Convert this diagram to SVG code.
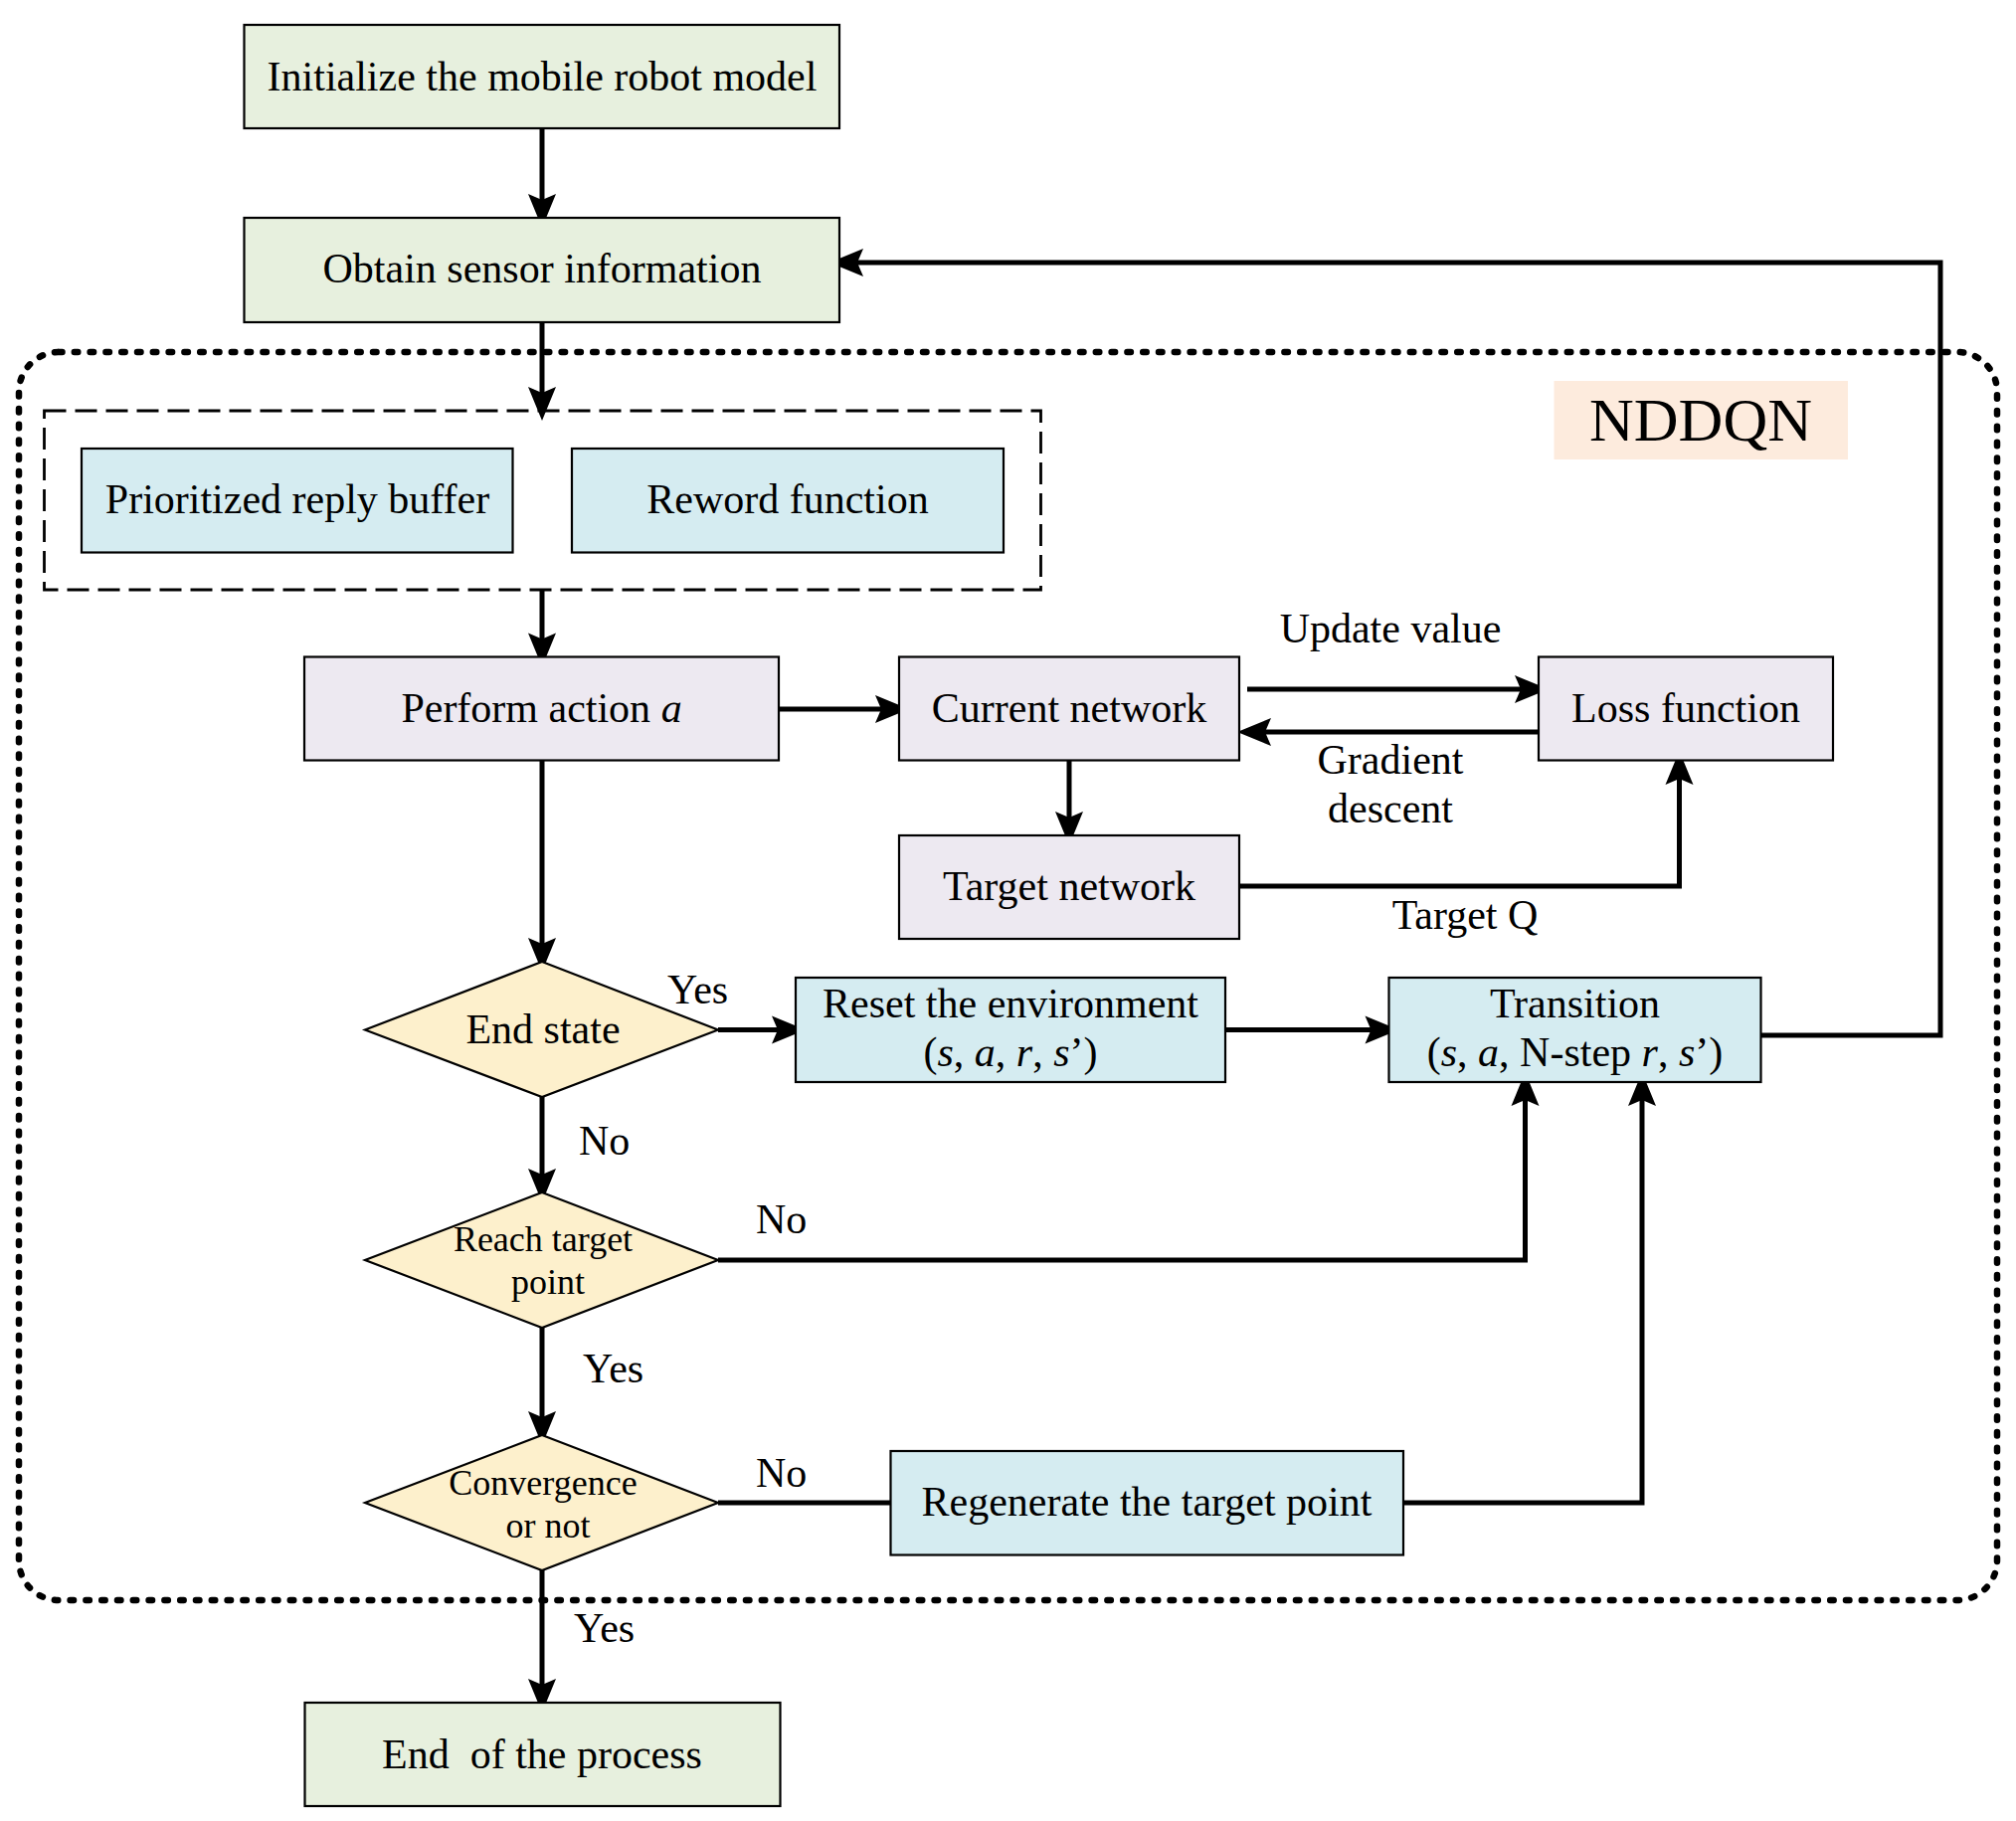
<svg xmlns="http://www.w3.org/2000/svg" width="2027" height="1831" viewBox="0 0 2027 1831">
<style>
text{font-family:"Liberation Serif","Times New Roman",serif;font-size:42px;fill:#000}
.c{text-anchor:middle}
.i{font-style:italic}
.box{stroke:#000;stroke-width:2.2}
.g{fill:#E7F0DE}
.b{fill:#D5ECF1}
.p{fill:#EDE9F1}
.y{fill:#FDF0CC}
.ln{fill:none;stroke:#000;stroke-width:5}
.arr{marker-end:url(#ah)}
.sm{font-size:36px}
</style>
<defs>
<marker id="ah" markerUnits="userSpaceOnUse" viewBox="-38 -18 40 36" markerWidth="40" markerHeight="36" refX="-10" refY="0" orient="auto">
<path d="M0,0 L-34,-14 L-28,0 L-34,14 Z" fill="#000"/>
</marker>
</defs>
<rect width="2027" height="1831" fill="#fff"/>
<g id="nddqn-container">
<rect x="19" y="354" width="1989" height="1255" rx="40" ry="40" fill="none" stroke="#000" stroke-width="6.5" stroke-dasharray="3.5 12.3" stroke-linecap="round"/>
<rect x="1562.5" y="383" width="295.5" height="79" fill="#FDEBDD"/>
<text class="c" x="1710" y="443" style="font-size:62px">NDDQN</text>
</g>
<g id="buffer-group">
<rect x="44.5" y="413" width="1002" height="180" fill="none" stroke="#000" stroke-width="2.8" stroke-dasharray="22 9"/>
</g>
<g id="connectors">
<path class="ln arr" d="M545,129 V219"/>
<path class="ln arr" d="M545,324 V413"/>
<path class="ln arr" d="M545,593 V660.5"/>
<path class="ln arr" d="M783,713 H904"/>
<path class="ln arr" d="M1254,693 H1547"/>
<path class="ln arr" d="M1547,736 H1254"/>
<path class="ln arr" d="M1075,765 V840"/>
<path class="ln arr" d="M1246,891 H1688.5 V765"/>
<path class="ln arr" d="M545,765 V967"/>
<path class="ln arr" d="M722,1035.5 H800"/>
<path class="ln arr" d="M1232,1035.5 H1396.5"/>
<path class="ln arr" d="M1770.5,1041 H1951 V264 H844"/>
<path class="ln arr" d="M545,1103 V1199"/>
<path class="ln arr" d="M722,1267 H1533.5 V1088"/>
<path class="ln arr" d="M545,1335 V1443"/>
<path class="ln" d="M722,1511 H895.5"/>
<path class="ln arr" d="M1411,1511 H1651 V1088"/>
<path class="ln arr" d="M545,1579 V1712"/>
</g>
<g id="labels">
<text class="c" x="1398" y="646">Update value</text>
<text class="c" x="1398" y="778">Gradient</text>
<text class="c" x="1398" y="827">descent</text>
<text class="c" x="1473" y="934">Target Q</text>
<text x="671" y="1009">Yes</text>
<text x="582" y="1161">No</text>
<text x="760" y="1240">No</text>
<text x="586" y="1390">Yes</text>
<text x="760" y="1495">No</text>
<text x="577" y="1651">Yes</text>
</g>
<g id="init">
<rect class="box g" x="245.5" y="25" width="598.5" height="104"/>
<text class="c" x="545" y="91">Initialize the mobile robot model</text>
</g>
<g id="sensor">
<rect class="box g" x="245.5" y="219" width="598.5" height="105"/>
<text class="c" x="545" y="284">Obtain sensor information</text>
</g>
<g id="prioritized">
<rect class="box b" x="82" y="451" width="433.5" height="104.5"/>
<text class="c" x="299" y="516">Prioritized reply buffer</text>
</g>
<g id="reward">
<rect class="box b" x="575" y="451" width="434" height="104.5"/>
<text class="c" x="792" y="516">Reword function</text>
</g>
<g id="perform">
<rect class="box p" x="306" y="660.5" width="477" height="104"/>
<text class="c" x="544.5" y="726">Perform action <tspan class="i">a</tspan></text>
</g>
<g id="current">
<rect class="box p" x="904" y="660.5" width="342" height="104"/>
<text class="c" x="1075" y="726">Current network</text>
</g>
<g id="loss">
<rect class="box p" x="1547" y="660.5" width="296" height="104"/>
<text class="c" x="1695" y="726">Loss function</text>
</g>
<g id="target">
<rect class="box p" x="904" y="840" width="342" height="104"/>
<text class="c" x="1075" y="905">Target network</text>
</g>
<g id="endstate">
<polygon class="box y" points="545,967 722,1035.5 545,1103 367,1035.5"/>
<text class="c" x="546" y="1049">End state</text>
</g>
<g id="reset">
<rect class="box b" x="800" y="983" width="432" height="105"/>
<text class="c" x="1016" y="1023">Reset the environment</text>
<text class="c" x="1016" y="1072">(<tspan class="i">s</tspan>, <tspan class="i">a</tspan>, <tspan class="i">r</tspan>, <tspan class="i">s</tspan>’)</text>
</g>
<g id="transition">
<rect class="box b" x="1396.5" y="983" width="374" height="105"/>
<text class="c" x="1583.5" y="1023">Transition</text>
<text class="c" x="1583.5" y="1072">(<tspan class="i">s</tspan>, <tspan class="i">a</tspan>, N-step <tspan class="i">r</tspan>, <tspan class="i">s</tspan>’)</text>
</g>
<g id="reach">
<polygon class="box y" points="545,1199 722,1267 545,1335 367,1267"/>
<text class="c sm" x="546" y="1258">Reach target</text>
<text class="c sm" x="551" y="1301">point</text>
</g>
<g id="convergence">
<polygon class="box y" points="545,1443 722,1511 545,1579 367,1511"/>
<text class="c sm" x="546" y="1503">Convergence</text>
<text class="c sm" x="551" y="1546">or not</text>
</g>
<g id="regenerate">
<rect class="box b" x="895.5" y="1459" width="515.5" height="104.5"/>
<text class="c" x="1153" y="1524">Regenerate the target point</text>
</g>
<g id="end">
<rect class="box g" x="306.5" y="1712" width="478" height="104"/>
<text class="c" x="545" y="1778" xml:space="preserve">End  of the process</text>
</g>
</svg>
